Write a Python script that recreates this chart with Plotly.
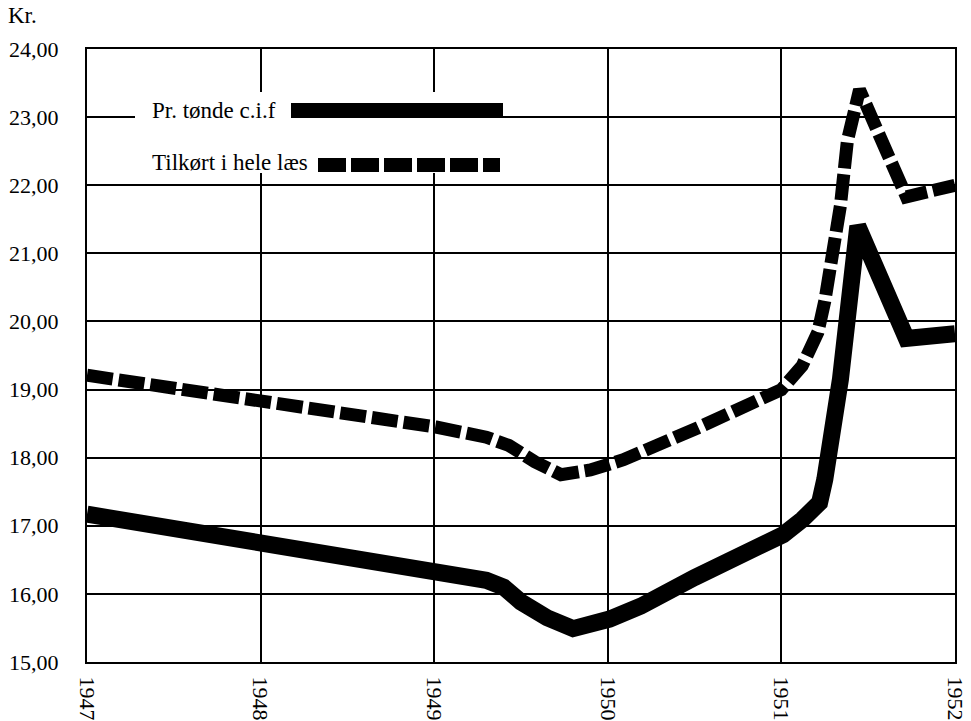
import plotly.graph_objects as go

# ---------------- data ----------------
year_ticks = [1947, 1948, 1949, 1950, 1951, 1952]
year_labels = ["1947", "1948", "1949", "1950", "1951", "1952"]
kr_ticks = [15, 16, 17, 18, 19, 20, 21, 22, 23, 24]

# Pr. tønde c.i.f (solid)
cif_x = [1947.00, 1948.23, 1949.01, 1949.30, 1949.40, 1949.50, 1949.65, 1949.80,
         1950.01, 1950.19, 1950.50, 1951.01, 1951.12, 1951.22, 1951.25, 1951.28,
         1951.34, 1951.44, 1951.72, 1952.00]
cif_y = [17.17, 16.66, 16.31, 16.20, 16.10, 15.88, 15.65, 15.49,
         15.63, 15.82, 16.24, 16.87, 17.09, 17.34, 17.68, 18.16,
         19.15, 21.40, 19.75, 19.82]

# Tilkørt i hele læs (dashed)
laes_x = [1947.00, 1948.23, 1949.01, 1949.30, 1949.43, 1949.58, 1949.73, 1949.90,
          1950.09, 1950.52, 1951.00, 1951.12, 1951.21, 1951.25, 1951.29, 1951.34,
          1951.38, 1951.45, 1951.72, 1952.00]
laes_y = [19.21, 18.76, 18.45, 18.30, 18.18, 17.94, 17.75, 17.82,
          17.97, 18.44, 19.00, 19.35, 19.84, 20.30, 20.90, 21.70,
          22.65, 23.40, 21.83, 22.00]

series_names = ["Pr. tønde c.i.f", "Tilkørt i hele læs"]

# ---------------- layout helpers ----------------
W, H = 971, 721
L, R, T, B = 87, 955, 49, 662
FONT = "Liberation Serif"


def px(x):
    return (x - L) / (R - L)


def py(y):
    return (B - y) / (B - T)


fig = go.Figure()
fig.add_trace(go.Scatter(x=cif_x, y=cif_y, mode="lines", name=series_names[0],
                         line=dict(color="black", width=17)))
fig.add_trace(go.Scatter(x=laes_x, y=laes_y, mode="lines", name=series_names[1],
                         line=dict(color="black", width=13, dash="26px,6px")))

axis_common = dict(showgrid=True, gridcolor="black", gridwidth=1.5,
                   showline=True, linecolor="black", linewidth=2, mirror=True,
                   zeroline=False, ticks="", automargin=False)

fig.update_layout(
    width=W, height=H,
    margin=dict(l=L, r=W - R, t=T, b=H - B, pad=0, autoexpand=False),
    paper_bgcolor="white", plot_bgcolor="white",
    showlegend=False,
    separators=",.",
    font=dict(family=FONT, color="black"),
    xaxis=dict(range=[1947, 1952], tickmode="array", tickvals=year_ticks,
               ticktext=year_labels, tickangle=90, ticklabelstandoff=8,
               tickfont=dict(family=FONT, size=22, color="black"), **axis_common),
    yaxis=dict(range=[15, 24], tickmode="array", tickvals=kr_ticks,
               tickformat=".2f", ticklabelstandoff=22,
               tickfont=dict(family=FONT, size=22, color="black"), **axis_common),
)

# legend drawn in the style of the original
fig.add_shape(type="rect", xref="paper", yref="paper",
              x0=px(135), x1=px(503), y0=py(173), y1=py(92),
              fillcolor="white", line=dict(width=0), layer="above")
fig.add_shape(type="rect", xref="paper", yref="paper",
              x0=px(291), x1=px(503), y0=py(118), y1=py(103),
              fillcolor="black", line=dict(width=0), layer="above")
fig.add_shape(type="line", xref="paper", yref="paper",
              x0=px(318), x1=px(500), y0=py(165), y1=py(165),
              line=dict(color="black", width=14, dash="28px,5px"), layer="above")

fig.add_annotation(text=series_names[0], xref="paper", yref="paper",
                   x=px(150), y=py(110), xanchor="left", yanchor="middle",
                   showarrow=False, font=dict(family=FONT, size=23, color="black"))
fig.add_annotation(text=series_names[1], xref="paper", yref="paper",
                   x=px(150), y=py(163), xanchor="left", yanchor="middle",
                   showarrow=False, font=dict(family=FONT, size=23, color="black"))
fig.add_annotation(text="Kr.", xref="paper", yref="paper",
                   x=px(6), y=py(16), xanchor="left", yanchor="middle",
                   showarrow=False, font=dict(family=FONT, size=23, color="black"))

fig.write_html("out.html", config={"displayModeBar": False},
               post_script=("document.documentElement.style.overflow='hidden';"
                            "document.body.style.overflow='hidden';"
                            "document.body.style.margin='0px';"))
